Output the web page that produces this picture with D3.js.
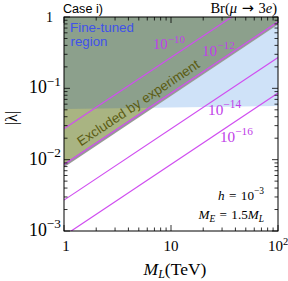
<!DOCTYPE html>
<html><head><meta charset="utf-8">
<script src="https://cdn.jsdelivr.net/npm/d3@7"></script>
<style>body{margin:0;background:#fff}</style>
</head><body>
<svg id="c" width="288" height="281"></svg>
<script>
// ---- data ----
const xDomain = [1, 100];
const yDomain = [1e-3, 1];
const xTicks = [1, 10, 100];
const xTickLabels = [["1",""], ["10",""], ["10","2"]];
const yTicks = [1e-3, 1e-2, 1e-1, 1];
const yTickLabels = [["10","−3"], ["10","−2"], ["10","−1"], ["1",""]];
// Br contour lines: |lambda| at M_L = 1 and M_L = 100
const brExponents = ["−10", "−12", "−14", "−16"];
const brLambdaAt1 = [0.0271, 0.00857, 0.00271, 0.000857];
const brLambdaAt100 = [2.71, 0.857, 0.271, 0.0857];
// fine-tuned region lower boundary (|lambda|) at M_L = 1 and 100
const fineM = [1, 100];
const fineLambda = [0.0512, 0.0565];
// excluded region lower boundary = Br 1e-12 line
const exclIndex = 1;

// ---- layout ----
const svg = d3.select("#c");
const L = 64, R = 278, T = 17, B = 231;
const x = d3.scaleLog().domain(xDomain).range([L, R]);
const y = d3.scaleLog().domain(yDomain).range([B, T]);
const serif = "'Liberation Serif','DejaVu Serif',serif";
const sans = "'Liberation Sans','DejaVu Sans',sans-serif";

function fit(t, target){
  const w = t.node().getBBox().width;
  if (!w) return t;
  const s = target / w;
  t.attr("font-size", +t.attr("font-size") * s);
  t.selectAll("tspan").each(function(){
    const e = d3.select(this);
    if (e.attr("font-size")) e.attr("font-size", +e.attr("font-size") * s);
    if (e.attr("dy")) e.attr("dy", +e.attr("dy") * s);
  });
  return t;
}

svg.append("defs").append("clipPath").attr("id","plot")
  .append("rect").attr("x",L).attr("y",T).attr("width",R-L).attr("height",B-T);

const g = svg.append("g").attr("clip-path","url(#plot)");
const line = d3.line().x(d=>x(d[0])).y(d=>y(d[1]));

// fine-tuned region polygon
const finePoly = [[fineM[0], fineLambda[0]], [fineM[1], fineLambda[1]], [fineM[1], 10], [fineM[0], 10]];
g.append("path").attr("d", line(finePoly)+"Z").attr("fill","#cfe2f8");

// excluded polygon
const exPoly = [[1, brLambdaAt1[exclIndex]], [100, brLambdaAt100[exclIndex]], [100, 1000], [1, 1000]];
g.append("path").attr("d", line(exPoly)+"Z").attr("fill","#a9b482");
// overlap
svg.select("defs").append("clipPath").attr("id","fine")
  .append("path").attr("d", line(finePoly)+"Z");
g.append("g").attr("clip-path","url(#fine)")
  .append("path").attr("d", line(exPoly)+"Z").attr("fill","#8ca08c");
// grey edge below excluded boundary
g.append("path").attr("d", line([[1, brLambdaAt1[exclIndex]], [100, brLambdaAt100[exclIndex]]]))
  .attr("stroke","#999").attr("stroke-width",3).attr("fill","none").attr("transform","translate(0,1)");

// Br lines
brLambdaAt1.forEach((v,i)=>{
  g.append("path").attr("d", line([[1, v],[100, brLambdaAt100[i]]]))
    .attr("stroke","#d04ef0").attr("stroke-width",1.2).attr("fill","none");
});

// frame
svg.append("rect").attr("x",L).attr("y",T).attr("width",R-L).attr("height",B-T)
  .attr("fill","none").attr("stroke","#000").attr("stroke-width",1);

// ticks (inside, all sides)
const tk = svg.append("g").attr("stroke","#000").attr("stroke-width",0.8);
const xMinor = [];
for (let d=1; d<100; d*=10) for (let k=1;k<10;k++) xMinor.push(d*k);
xMinor.push(100);
xMinor.forEach(v=>{
  const major = xTicks.includes(v);
  const len = major ? 6 : 3.5;
  const px = x(v);
  tk.append("line").attr("x1",px).attr("x2",px).attr("y1",B).attr("y2",B-len);
  tk.append("line").attr("x1",px).attr("x2",px).attr("y1",T).attr("y2",T+len);
});
const yMinor = [];
for (let d=1e-3; d<0.99; d*=10) for (let k=1;k<10;k++) yMinor.push(d*k);
yMinor.push(1);
yMinor.forEach(v=>{
  const major = yTicks.some(t=>Math.abs(t-v)/t<1e-6);
  const len = major ? 6 : 3.5;
  const py = y(v);
  tk.append("line").attr("x1",L).attr("x2",L+len).attr("y1",py).attr("y2",py);
  tk.append("line").attr("x1",R).attr("x2",R-len).attr("y1",py).attr("y2",py);
});

function supText(sel, base, sup, supSize){
  sel.append("tspan").text(base);
  if (sup) sel.append("tspan").attr("dy",-6).attr("font-size",supSize).text(sup);
}

// tick labels
yTicks.forEach((v,i)=>{
  const isOne = yTickLabels[i][1] === "";
  const t = svg.append("text").attr("x", isOne ? 53 : 61).attr("y",y(v)+5).attr("text-anchor","end")
    .attr("font-family",serif).attr("font-size",14);
  supText(t, yTickLabels[i][0], yTickLabels[i][1], 10.5);
  if (!isOne) fit(t, 32);
});
xTicks.forEach((v,i)=>{
  const t = svg.append("text").attr("x",x(v) + (i==0?2:0)).attr("y",251).attr("text-anchor","middle")
    .attr("font-family",serif).attr("font-size",15);
  supText(t, xTickLabels[i][0], xTickLabels[i][1], 10.5);
});

// axis titles
const xt = svg.append("text").attr("x",175).attr("y",275).attr("text-anchor","middle")
  .attr("font-family",serif).attr("font-size",16);
xt.append("tspan").attr("font-style","italic").text("M");
xt.append("tspan").attr("font-style","italic").attr("font-size",11).attr("dy",3).text("L");
xt.append("tspan").attr("dy",-3).text("(TeV)");
fit(xt, 64);
svg.append("text").attr("transform","translate(17,118) rotate(-90)").attr("text-anchor","middle")
  .attr("font-family",serif).attr("font-size",16).text("|λ|");

// top texts
fit(svg.append("text").attr("x",63).attr("y",13).attr("font-family",sans).attr("font-size",13).text("Case i)"), 40);
const br = svg.append("text").attr("x",277).attr("y",13).attr("text-anchor","end")
  .attr("font-family",serif).attr("font-size",14);
br.append("tspan").text("Br(");
br.append("tspan").attr("font-style","italic").text("μ");
br.append("tspan").attr("font-family","'DejaVu Sans',sans-serif").text(" → ");
br.append("tspan").text("3");
br.append("tspan").attr("font-style","italic").text("e");
br.append("tspan").text(")");
fit(br, 67);

// region labels
fit(svg.append("text").attr("x",70).attr("y",31.5).attr("fill","#3f52ea").attr("font-family",sans).attr("font-size",13).text("Fine-tuned"), 64);
fit(svg.append("text").attr("x",70.5).attr("y",46).attr("fill","#3f52ea").attr("font-family",sans).attr("font-size",13).text("region"), 37);

const ang = Math.atan2(y(brLambdaAt100[exclIndex]) - y(brLambdaAt1[exclIndex]), x(100)-x(1))*180/Math.PI;
const ms = 1.54;
const ex = svg.append("text").attr("transform",`translate(${x(ms)},${y(brLambdaAt1[exclIndex]*ms)}) rotate(${ang})`)
  .attr("y",-5.5).attr("fill","#5b5c12").attr("font-family",sans).attr("font-size",14)
  .text("Excluded by experiment");
fit(ex, 144);

// Br labels
const brLabelPos = [[153,49],[202,55.5],[208,115],[220,142]];
const brLabelW = [32,33,34,33];
brExponents.forEach((e,i)=>{
  const t = svg.append("text").attr("x",brLabelPos[i][0]).attr("y",brLabelPos[i][1])
    .attr("fill","#c040e8").attr("font-family",serif).attr("font-size",14);
  supText(t, "10", e, 10.5);
  fit(t, brLabelW[i]);
});

// parameters
const sp = "\u2004";
const p1 = svg.append("text").attr("x",264).attr("y",200).attr("text-anchor","end")
  .attr("font-family",serif).attr("font-size",14);
p1.append("tspan").attr("font-style","italic").text("h");
p1.append("tspan").text(sp+"="+sp+"10");
p1.append("tspan").attr("dy",-6).attr("font-size",10).text("−3");
fit(p1, 46);
const p2 = svg.append("text").attr("x",264).attr("y",219).attr("text-anchor","end")
  .attr("font-family",serif).attr("font-size",14);
p2.append("tspan").attr("font-style","italic").text("M");
p2.append("tspan").attr("font-style","italic").attr("font-size",10).attr("dy",3).text("E");
p2.append("tspan").attr("dy",-3).text(sp+"="+sp+"1.5");
p2.append("tspan").attr("font-style","italic").text("M");
p2.append("tspan").attr("font-style","italic").attr("font-size",10).attr("dy",3).text("L");
fit(p2, 67);
</script>
</body></html>
